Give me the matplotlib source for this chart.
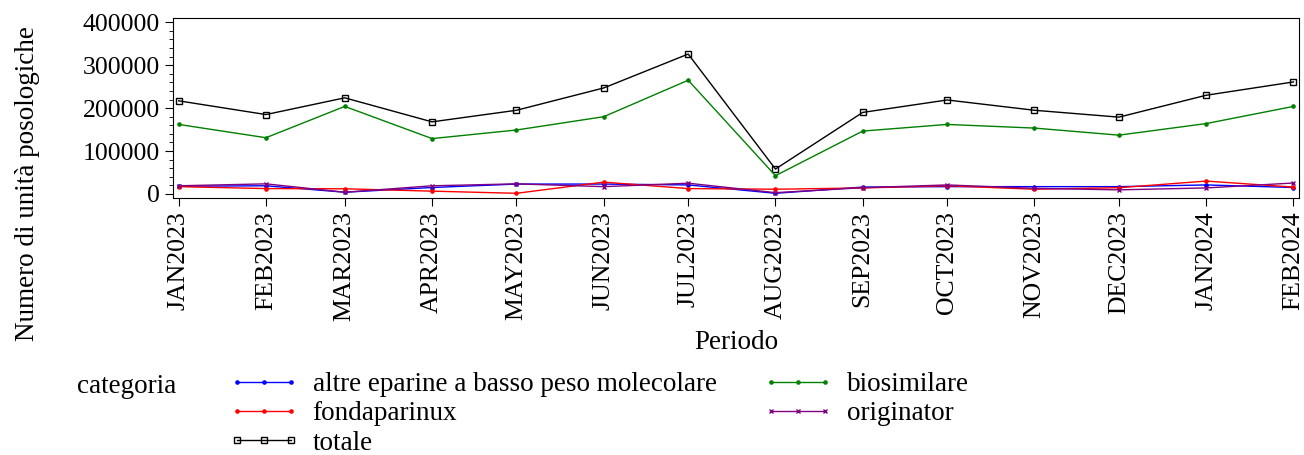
import datetime as dt
import matplotlib
matplotlib.use("Agg")
import matplotlib.pyplot as plt
from matplotlib.ticker import MultipleLocator

plt.rcParams["font.family"] = ["Liberation Serif", "DejaVu Serif"]

periods = ["JAN2023", "FEB2023", "MAR2023", "APR2023", "MAY2023", "JUN2023", "JUL2023",
           "AUG2023", "SEP2023", "OCT2023", "NOV2023", "DEC2023", "JAN2024", "FEB2024"]
dates = [dt.date(2023 + (i // 12), i % 12 + 1, 1) for i in range(len(periods))]

altre = [18000, 19000, 4000, 15000, 23000, 23000, 21000, 1500, 16000, 17000, 17000, 17000, 21000, 15000]
fondaparinux = [17000, 12500, 12000, 6500, 1500, 27500, 12500, 11000, 14000, 19000, 11000, 14500, 30000, 16000]
biosimilare = [162000, 131000, 204000, 129000, 149000, 180000, 265000, 42500, 146500, 162000, 153500, 137000, 164000, 204000]
originator = [19000, 23500, 4000, 19000, 23500, 17000, 25000, 3000, 14500, 21000, 13000, 9500, 14000, 25500]
totale = [217000, 185000, 224000, 168000, 195000, 247000, 326000, 58000, 190000, 219000, 195000, 179000, 230000, 261000]

fig = plt.figure(figsize=(13.04, 4.55), dpi=100)
ax = fig.add_axes([0.1327, 0.5648, 0.8635, 0.3956])

ax.plot(dates, altre, color="blue", lw=1, marker="o", ms=2.3, label="altre eparine a basso peso molecolare")
ax.plot(dates, fondaparinux, color="red", lw=1, marker="o", ms=2.3, label="fondaparinux")
ax.plot(dates, totale, color="black", lw=1, marker="s", ms=5, mfc="none", mew=1, label="totale")
ax.plot(dates, biosimilare, color="green", lw=1, marker="o", ms=2.3, label="biosimilare")
ax.plot(dates, originator, color="purple", lw=1, marker="x", ms=3.5, label="originator")

ax.set_xlim(dt.date(2022, 12, 30), dt.date(2024, 2, 3))
ax.set_xticks(dates)
ax.set_xticklabels(periods, rotation=90, fontsize=18.5)
ax.set_ylim(-9500, 410000)
ax.set_yticks([0, 100000, 200000, 300000, 400000])
ax.yaxis.set_minor_locator(MultipleLocator(20000))
ax.tick_params(axis="y", labelsize=18.5, length=6)
ax.tick_params(axis="y", which="minor", length=3)
ax.tick_params(axis="x", length=6)

ax.set_xlabel("Periodo", fontsize=19.5, labelpad=6)
ax.set_ylabel("Numero di unità posologiche", fontsize=19.5)
ax.yaxis.set_label_coords(-0.118, 0.08)

h, l = ax.get_legend_handles_labels()
fig.legend(h, l, ncol=2, loc="upper left", bbox_to_anchor=(0.167, 0.206), frameon=False,
           fontsize=19.5, numpoints=3, handlelength=2.6, columnspacing=1.7,
           labelspacing=0.16, handletextpad=0.5, borderaxespad=0)
fig.text(0.059, 0.137, "categoria", fontsize=19.5)

fig.savefig("out.png", dpi=100)
